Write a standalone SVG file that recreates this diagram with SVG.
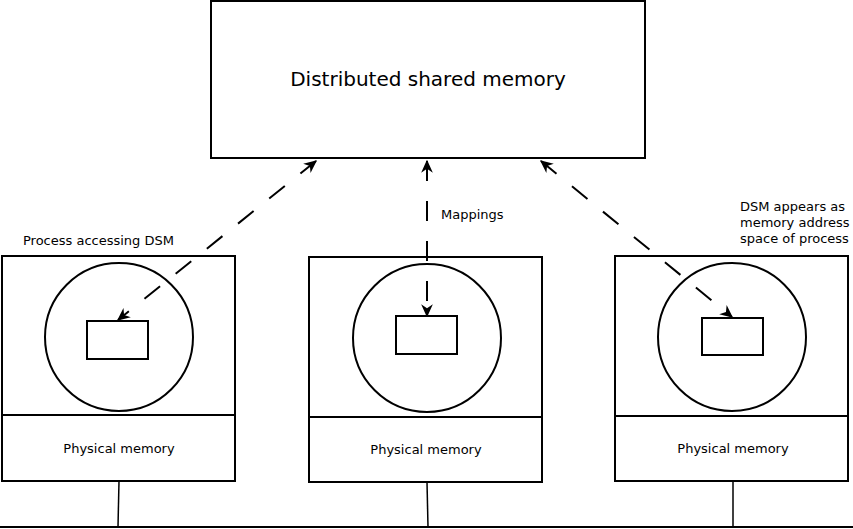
<svg xmlns="http://www.w3.org/2000/svg" width="853" height="529" viewBox="0 0 853 529">
<defs>
<style>
.b{fill:#fff;stroke:#000;stroke-width:2}
.n{fill:none;stroke:#000;stroke-width:2}
.t{font-family:"DejaVu Sans",sans-serif;font-size:13px;fill:#000}
.c{text-anchor:middle}
.d{fill:none;stroke:#000;stroke-width:2;stroke-dasharray:20 20;marker-start:url(#a);marker-end:url(#a)}
.l{stroke:#000;stroke-width:1.5;fill:none}
</style>
<marker id="a" viewBox="0 0 10 10" refX="9" refY="5" markerWidth="13" markerHeight="13" orient="auto-start-reverse" markerUnits="userSpaceOnUse">
<path d="M0,0.5 L10,5 L0,9.5 L3,5 Z" fill="#000"/>
</marker>
</defs>
<rect width="853" height="529" fill="#fff"/>
<g id="dsm">
<rect class="b" x="211" y="1" width="434" height="157"/>
<text class="t c" x="428" y="86" style="font-size:20px">Distributed shared memory</text>
</g>
<g id="node1">
<rect class="b" x="2" y="256" width="233" height="225"/>
<line class="n" x1="2" y1="415" x2="235" y2="415"/>
<circle class="n" cx="119" cy="337" r="74"/>
<rect class="n" x="87" y="321" width="61" height="38"/>
<text class="t c" x="119" y="453">Physical memory</text>
</g>
<g id="node2">
<rect class="b" x="309" y="257" width="233" height="225"/>
<line class="n" x1="309" y1="417" x2="542" y2="417"/>
<circle class="n" cx="427" cy="338" r="74"/>
<rect class="n" x="396" y="316" width="61" height="38"/>
<text class="t c" x="426" y="454">Physical memory</text>
</g>
<g id="node3">
<rect class="b" x="615" y="256" width="233" height="225"/>
<line class="n" x1="615" y1="416" x2="848" y2="416"/>
<circle class="n" cx="732" cy="337" r="74"/>
<rect class="n" x="702" y="318" width="61" height="37"/>
<text class="t c" x="733" y="453">Physical memory</text>
</g>
<g id="bus">
<line class="n" x1="0" y1="527" x2="853" y2="527"/>
<line class="l" x1="119" y1="481" x2="118" y2="527"/>
<line class="l" x1="427" y1="482" x2="428" y2="527"/>
<line class="l" x1="733" y1="481" x2="733" y2="527"/>
</g>
<g id="connectors">
<line class="d" x1="316" y1="161" x2="118" y2="320"/>
<line class="d" x1="427" y1="161" x2="427" y2="316"/>
<line class="d" x1="541" y1="161" x2="732" y2="317"/>
</g>
<g id="labels">
<text class="t" x="23" y="245">Process accessing DSM</text>
<text class="t" x="441" y="219">Mappings</text>
<text class="t" x="740" y="211">DSM appears as</text>
<text class="t" x="740" y="227">memory address</text>
<text class="t" x="740" y="243">space of process</text>
</g>
</svg>
